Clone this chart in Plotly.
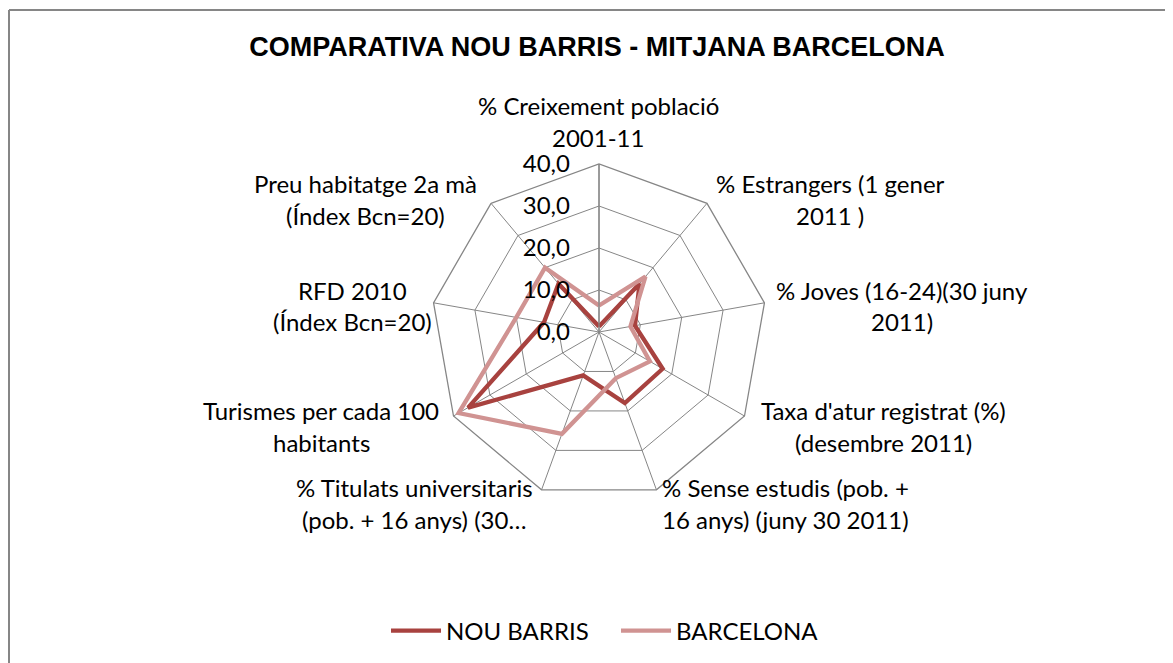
import plotly.graph_objects as go

# categories (axis labels, clockwise from the top)
categories = [
    "% Creixement població<br>2001-11",
    "% Estrangers (1 gener<br>2011 )",
    "% Joves (16-24)(30 juny<br>2011)",
    "Taxa d'atur registrat (%)<br>(desembre 2011)",
    "% Sense estudis (pob. +<br>16 anys) (juny 30 2011)",
    "% Titulats universitaris<br>(pob. + 16 anys) (30…",
    "Turismes per cada 100<br>habitants",
    "RFD 2010<br>(Índex Bcn=20)",
    "Preu habitatge 2a mà<br>(Índex Bcn=20)",
]
nou_barris = [1.3, 15.0, 8.7, 17.5, 18.0, 11.0, 36.0, 13.3, 15.0]
barcelona = [6.3, 17.2, 7.6, 14.0, 11.7, 25.8, 38.6, 20.0, 20.0]
radial_ticks = [0, 10, 20, 30, 40]

# the page adds an 8px body margin, so the figure is drawn 8px smaller
OFF = 8
W, H = 1173 - OFF, 663 - OFF


def px_x(x):
    return (x - OFF) / W


def px_y(y):
    return 1 - (y - OFF) / H


CX, CY, R = 599, 332, 168

# where each category label is centred (screen px)
label_pos = [(598, 121), (830, 200), (902, 306), (883, 426), (785, 503),
             (414, 503), (321, 426), (352, 306), (365, 199)]
LINE_GAP = 32
LABEL_FONT = dict(family="Lato, sans-serif", size=24, color="#000000")

fig = go.Figure()
for name, vals, col in [("NOU BARRIS", nou_barris, "#A8423F"),
                        ("BARCELONA", barcelona, "#D09392")]:
    fig.add_trace(go.Scatterpolar(
        r=vals + vals[:1], theta=categories + categories[:1],
        mode="lines", name=name,
        line=dict(color=col, width=4.3),
        hoverinfo="skip",
    ))

annotations = []
for text, (px, py) in zip(categories, label_pos):
    lines = text.split("<br>")
    n = len(lines)
    for i, ln in enumerate(lines):
        y = py + (i - (n - 1) / 2) * LINE_GAP
        annotations.append(dict(
            x=px_x(px), y=px_y(y), xref="paper", yref="paper",
            text=ln, showarrow=False, xanchor="center", yanchor="middle",
            font=LABEL_FONT,
        ))

fig.update_layout(
    width=W, height=H,
    margin=dict(l=0, r=0, t=0, b=0),
    paper_bgcolor="white",
    separators=",.",
    title=dict(text="<b>COMPARATIVA NOU BARRIS - MITJANA BARCELONA</b>",
               x=px_x(597), xanchor="center", y=px_y(47), yanchor="middle",
               font=dict(family="Liberation Sans, Arial, sans-serif", size=27, color="#000000")),
    polar=dict(
        domain=dict(x=[px_x(CX - R), px_x(CX + R)],
                    y=[px_y(CY + R), px_y(CY - R)]),
        gridshape="linear",
        bgcolor="white",
        angularaxis=dict(direction="clockwise", rotation=90,
                         showticklabels=False, ticks="",
                         showgrid=True, gridcolor="#868686", gridwidth=1.3,
                         showline=True, linecolor="#868686", linewidth=1.3),
        radialaxis=dict(range=[0, 40], tickvals=radial_ticks, tickformat=".1f",
                        angle=90, tickangle=90, side="counterclockwise",
                        ticks="outside", ticklen=20, tickcolor="rgba(0,0,0,0)",
                        showline=True, linecolor="#868686", linewidth=1.3,
                        gridcolor="#868686", gridwidth=1.3,
                        tickfont=LABEL_FONT),
    ),
    showlegend=True,
    legend=dict(orientation="h", x=px_x(386), xanchor="left", y=px_y(631), yanchor="middle",
                font=LABEL_FONT, itemwidth=50, entrywidth=165, entrywidthmode="pixels"),
    annotations=annotations,
    shapes=[
        dict(type="line", xref="paper", yref="paper", x0=1 / W, x1=1.0, y0=px_y(10), y1=px_y(10),
             line=dict(color="#868686", width=2)),
        dict(type="line", xref="paper", yref="paper", x0=1 / W, x1=1 / W, y0=0, y1=px_y(10),
             line=dict(color="#868686", width=2)),
    ],
)

fig.write_html("out.html")
